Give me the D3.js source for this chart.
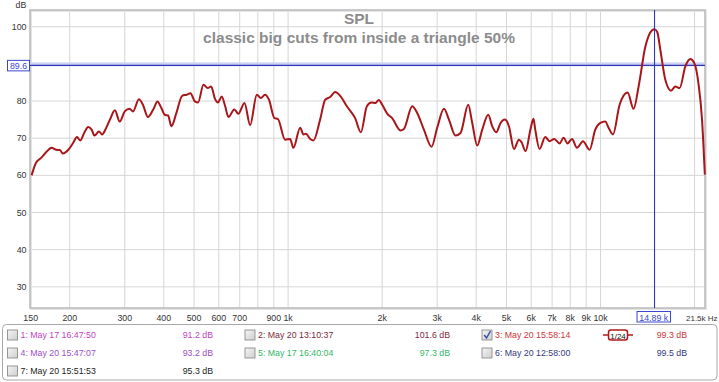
<!DOCTYPE html>
<html><head><meta charset="utf-8">
<script src="https://cdn.jsdelivr.net/npm/d3@7/dist/d3.min.js"></script>
<style>body{margin:0;background:#fff;} svg{display:block;font-family:"Liberation Sans",Arial,sans-serif;}</style>
</head><body><svg id="c" width="719" height="382"></svg>
<script>
// ---- data ----
const freqs = [151,156,162,168,175,181,186,190,198,205,211,216,223,229,235,240,248,254,260,269,279,289,300,311,319,333,343,356,370,382,393,403,413,423,439,458,473,487,503,515,536,553,567,584,596,613,629,644,673,693,725,756,794,818,844,869,904,927,978,1015,1040,1093,1120,1140,1177,1206,1266,1314,1363,1415,1468,1542,1639,1710,1787,1849,1904,1952,2001,2076,2153,2290,2348,2496,2589,2721,2878,3001,3154,3272,3434,3564,3772,3885,4030,4182,4371,4502,4637,4786,4944,5092,5284,5482,5588,5756,5971,6100,6182,6381,6654,6869,7112,7396,7617,7845,8104,8408,8788,9227,9622,9984,10358,10614,10964,11510,12210,12762,13242,13912,14600,14890,15200,15540,16124,16816,17358,17918,18686,19388,19966,20608,21132,21572];
const spl = [60.0,63.4,64.7,66.2,67.4,66.9,66.8,65.9,66.9,68.7,70.3,69.4,71.6,73.0,72.3,70.7,71.8,71.0,72.3,75.0,77.5,74.5,77.2,77.9,77.2,80.5,79.0,75.7,77.7,79.9,78.1,76.3,76.1,73.2,76.8,81.4,81.7,82.1,79.9,79.6,84.4,83.5,83.9,80.5,79.6,81.2,78.6,75.7,77.7,76.6,79.5,73.5,81.7,80.8,81.7,80.3,75.4,75.2,69.6,69.8,67.4,72.8,71.0,71.2,69.8,69.4,75.0,80.3,81.1,82.4,81.4,78.6,75.4,71.6,78.6,79.6,79.5,80.3,79.0,76.6,75.4,72.1,72.5,78.6,76.8,72.3,67.7,72.8,77.9,75.0,70.7,71.4,79.0,74.1,68.0,72.3,76.3,73.2,71.6,74.1,75.0,73.2,67.1,69.6,68.9,66.5,72.5,75.2,72.3,67.1,70.3,69.2,69.8,68.6,70.1,68.6,69.8,67.4,69.2,66.9,72.3,74.1,74.5,72.8,71.0,79.0,82.3,77.9,83.9,94.6,99.0,99.3,98.5,93.8,85.7,82.8,83.9,83.5,89.3,91.3,90.2,84.4,75.0,60.2];

const xGrid = [200,300,400,500,600,700,800,900,1000,2000,3000,4000,5000,6000,7000,8000,9000,10000,20000];
const xTickValues = [150,200,300,400,500,600,700,900,1000,2000,3000,4000,5000,6000,7000,8000,9000,10000];
const xTickLabels = ["150","200","300","400","500","600","700","900","1k","2k","3k","4k","5k","6k","7k","8k","9k","10k"];
const yGrid = [30,40,50,60,70,80,90,100];
const yTickValues = [30,40,50,60,70,80,100];

const cursorFreq = 14890, cursorFreqLabel = "14.89 k";
const cursorLevel = 89.6, cursorLevelLabel = "89.6";
const titleText = "SPL", subtitleText = "classic big cuts from inside a triangle 50%";

const legendNames = ["1: May 17 16:47:50","2: May 20 13:10:37","3: May 20 15:58:14","4: May 20 15:47:07","5: May 17 16:40:04","6: May 20 12:58:00","7: May 20 15:51:53"];
const legendValues = ["91.2 dB","101.6 dB","99.3 dB","93.2 dB","97.3 dB","99.5 dB","95.3 dB"];
const legendColors = ["#c23fc6","#7a2a3a","#cc3535","#9a4fc8","#33b866","#33387a","#222222"];
const legendChecked = [false,false,true,false,false,false,false];

// ---- layout ----
const svg = d3.select("#c");
const L = 30.7, R = 705, T = 10, B = 308;
const x = d3.scaleLog().domain([150, 21600]).range([L, R]);
const y = d3.scaleLinear().domain([24.3, 104.5]).range([B, T]);

svg.append("rect").attr("x", 30).attr("y", T).attr("width", R - 30).attr("height", B - T).attr("fill", "#fff");

// grid
svg.append("g").selectAll("line").data(xGrid).join("line")
  .attr("x1", d => x(d)).attr("x2", d => x(d)).attr("y1", T).attr("y2", B)
  .attr("stroke", "#d6d6d6").attr("stroke-width", 1);
svg.append("g").selectAll("line").data(yGrid).join("line")
  .attr("x1", 30).attr("x2", R).attr("y1", d => y(d)).attr("y2", d => y(d))
  .attr("stroke", "#d6d6d6").attr("stroke-width", 1);

// frame
svg.append("rect").attr("x", 31).attr("y", T + 1).attr("width", R - 30).attr("height", B - T).attr("fill", "none").attr("stroke", "#e4e4e4").attr("stroke-width", 2);
svg.append("rect").attr("x", 30).attr("y", T).attr("width", R - 30).attr("height", B - T).attr("fill", "none").attr("stroke", "#bdbdbd").attr("stroke-width", 1.6);

// title
svg.append("text").attr("x", 359).attr("y", 24).attr("text-anchor", "middle")
  .attr("font-size", 15.5).attr("font-weight", "bold").attr("fill", "#8c8c8c").text(titleText);
svg.append("text").attr("x", 359).attr("y", 43).attr("text-anchor", "middle")
  .attr("font-size", 15.5).attr("font-weight", "bold").attr("fill", "#8c8c8c").text(subtitleText);

// horizontal cursor
svg.append("rect").attr("x", 30).attr("y", y(cursorLevel) - 3).attr("width", R - 30).attr("height", 4).attr("fill", "#cdd2f4");
svg.append("line").attr("x1", 30).attr("x2", R).attr("y1", y(cursorLevel)).attr("y2", y(cursorLevel))
  .attr("stroke", "#3038b8").attr("stroke-width", 1.2);

// curve
const pts = freqs.map((f, i) => [f, spl[i]]);
const line = d3.line().x(d => x(d[0])).y(d => y(d[1])).curve(d3.curveMonotoneX);
svg.append("path").datum(pts).attr("d", line).attr("fill", "none")
  .attr("stroke", "#a8161a").attr("stroke-width", 2).attr("stroke-linejoin", "round");

// vertical cursor
svg.append("line").attr("x1", x(cursorFreq)).attr("x2", x(cursorFreq)).attr("y1", T).attr("y2", B)
  .attr("stroke", "#3038b8").attr("stroke-width", 1.1);

// y axis labels
svg.append("g").selectAll("text").data(yTickValues).join("text")
  .attr("x", 26.5).attr("y", d => y(d) + 3).attr("text-anchor", "end")
  .attr("font-size", 8.8).attr("fill", "#333").text(d => d);
svg.append("text").attr("x", 21).attr("y", 8).attr("text-anchor", "middle").attr("font-size", 8.8).attr("fill", "#333").text("dB");
svg.append("rect").attr("x", 7.5).attr("y", y(cursorLevel) - 5).attr("width", 22).attr("height", 10.5)
  .attr("fill", "#fff").attr("stroke", "#3a46d0").attr("stroke-width", 1);
svg.append("text").attr("x", 18.5).attr("y", y(cursorLevel) + 3.5).attr("text-anchor", "middle")
  .attr("font-size", 8.8).attr("fill", "#3a46d0").text(cursorLevelLabel);

// x axis labels
svg.append("g").selectAll("text").data(xTickValues).join("text")
  .attr("x", d => x(d)).attr("y", 321).attr("text-anchor", "middle")
  .attr("font-size", 8.8).attr("fill", "#333").text((d, i) => xTickLabels[i]);
svg.append("text").attr("x", 686).attr("y", 321).attr("font-size", 8).attr("fill", "#333").text("21.5k Hz");
svg.append("rect").attr("x", x(cursorFreq) - 17.5).attr("y", 311.5).attr("width", 33.5).attr("height", 10.5)
  .attr("fill", "#fff").attr("stroke", "#3a46d0").attr("stroke-width", 1);
svg.append("text").attr("x", x(cursorFreq) - 0.8).attr("y", 320.5).attr("text-anchor", "middle")
  .attr("font-size", 8.8).attr("fill", "#3a46d0").text(cursorFreqLabel);

// legend box
svg.append("rect").attr("x", 2.5).attr("y", 324.5).attr("width", 714.5).attr("height", 55.5).attr("rx", 4)
  .attr("fill", "#fff").attr("stroke", "#a8a8a8").attr("stroke-width", 1);

const colCheck = [7.5, 245, 482];
const colText = [20.5, 258, 495];
const colValue = [213, 450, 687];
const rowY = [335, 353, 371];

const defs = svg.append("defs");
const grad = defs.append("linearGradient").attr("id", "cb").attr("x1", 0).attr("y1", 0).attr("x2", 1).attr("y2", 1);
grad.append("stop").attr("offset", 0).attr("stop-color", "#f4f4f4");
grad.append("stop").attr("offset", 1).attr("stop-color", "#cfcfcf");

legendNames.forEach((name, i) => {
  const col = i % 3, row = Math.floor(i / 3);
  const cy = rowY[row];
  const g = svg.append("g");
  g.append("rect").attr("x", colCheck[col]).attr("y", cy - 5).attr("width", 10).attr("height", 10)
    .attr("fill", "url(#cb)").attr("stroke", "#8e8e8e").attr("stroke-width", 0.9);
  if (legendChecked[i]) {
    g.append("path").attr("d", `M${colCheck[col] + 2.2},${cy} L${colCheck[col] + 4.5},${cy + 3} L${colCheck[col] + 8.5},${cy - 4}`)
      .attr("fill", "none").attr("stroke", "#3550a8").attr("stroke-width", 1.5);
  }
  g.append("text").attr("x", colText[col]).attr("y", cy + 3.2).attr("font-size", 8.8)
    .attr("fill", legendColors[i]).text(name);
  g.append("text").attr("x", colValue[col]).attr("y", cy + 3.2).attr("font-size", 8.8).attr("text-anchor", "end")
    .attr("fill", legendColors[i]).text(legendValues[i]);
  if (legendChecked[i]) {
    const fx = 603, fy = cy;
    g.append("line").attr("x1", fx).attr("x2", fx + 30).attr("y1", fy).attr("y2", fy).attr("stroke", "#b01818").attr("stroke-width", 1.5);
    g.append("rect").attr("x", fx + 5.5).attr("y", fy - 5).attr("width", 19).attr("height", 10).attr("rx", 2.5)
      .attr("fill", "#fff").attr("stroke", "#b01818").attr("stroke-width", 1.5);
    g.append("text").attr("x", fx + 15).attr("y", fy + 3.5).attr("text-anchor", "middle").attr("font-size", 8)
      .attr("fill", "#111").text("1/24");
  }
});
</script></body></html>
